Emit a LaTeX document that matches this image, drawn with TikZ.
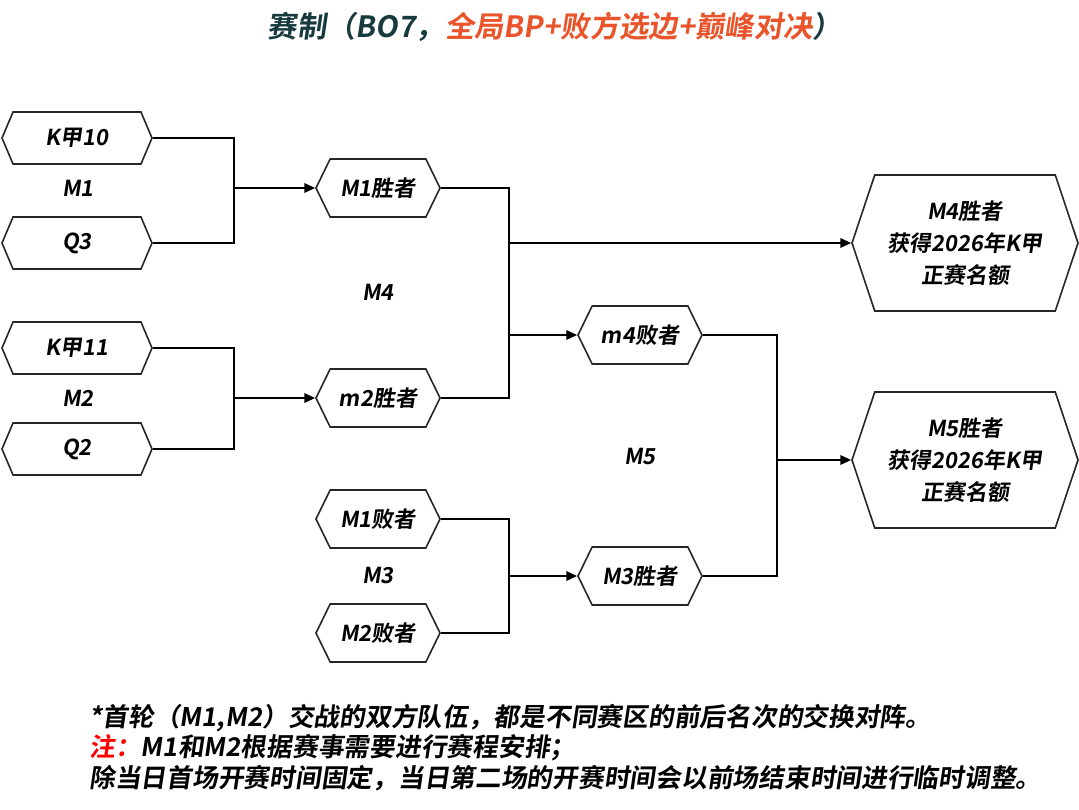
\documentclass[tikz,border=0pt]{standalone}
\usepackage{fontspec}
\setmainfont{Noto Sans CJK SC Bold}[FakeSlant=0.15]
\usetikzlibrary{shapes.symbols,arrows.meta}
\definecolor{titleteal}{RGB}{23,58,62}
\definecolor{titleorange}{RGB}{234,84,42}
\definecolor{noteRed}{RGB}{255,0,0}
\tikzset{every picture/.style={line width=0.75pt}}
\tikzset{
  hexa/.style={shape=signal, signal to=west and east, draw=black!85, line width=1.2pt, inner sep=0pt, font=\fontsize{16.5}{24}\selectfont, align=center},
  team/.style={hexa, minimum width=112.5pt, minimum height=39pt, signal pointer angle=134},
  seed/.style={hexa, minimum width=93pt, minimum height=43.5pt, signal pointer angle=128},
  final/.style={hexa, minimum width=169.5pt, minimum height=102pt, signal pointer angle=143},
  matchlbl/.style={inner sep=0.75pt, font=\fontsize{16.5}{20}\selectfont},
  link/.style={line width=1.4pt},
  arr/.style={link, -{Triangle[length=8pt,width=7pt]}},
  foot/.style={anchor=west, inner sep=0.75pt, font=\fontsize{19.3}{22}\selectfont}
}

\begin{document}
\begin{tikzpicture}[x=0.75pt,y=0.75pt,yscale=-1,xscale=1]
        \useasboundingbox (0,0) rectangle (1079,810);

        % Title
        \node (title) at (555,27) [inner sep=0.75pt, font=\fontsize{22}{24}\selectfont] {\textcolor{titleteal}{赛制（BO7，}\textcolor{titleorange}{全局BP+败方选边+巅峰对决}\textcolor{titleteal}{）}};

        %Shape: Hexagon -- round 1
        \node (k10) at (77,138) [team] {K甲10};
        \node (q3) at (77,243) [team] {Q3};
        \node (k11) at (77,348) [team] {K甲11};
        \node (q2) at (77,449) [team] {Q2};
        % Text Node
        \node (lm1) at (78,188) [matchlbl] {M1};
        \node (lm2) at (78,398) [matchlbl] {M2};

        %Shape: Hexagon -- round 2
        \node (w1) at (378,188) [seed] {M1胜者};
        \node (w2) at (378,398) [seed] {m2胜者};
        \node (l1) at (378,519) [seed] {M1败者};
        \node (l2) at (378,633) [seed] {M2败者};
        % Text Node
        \node (lm4) at (378,292) [matchlbl] {M4};
        \node (lm3) at (378,575) [matchlbl] {M3};

        %Shape: Hexagon -- round 3
        \node (l4) at (640,335) [seed] {m4败者};
        \node (w3) at (640,576) [seed] {M3胜者};
        % Text Node
        \node (lm5) at (640,456) [matchlbl] {M5};

        %Shape: Hexagon -- finals
        \node (f4) at (965,243) [final] {M4胜者\\获得2026年K甲\\正赛名额};
        \node (f5) at (965,460) [final] {M5胜者\\获得2026年K甲\\正赛名额};

        %Straight Lines
        \coordinate (j1) at (234,188);
        \coordinate (j2) at (234,398);
        \coordinate (j4a) at (509,243);
        \coordinate (j4b) at (509,335);
        \coordinate (j3) at (509,576);
        \coordinate (j5) at (777,460);
        \draw [link] (k10.east) -| (j1) |- (q3.east);
        \draw [arr] (j1) -- (w1.west);
        \draw [link] (k11.east) -| (j2) |- (q2.east);
        \draw [arr] (j2) -- (w2.west);
        \draw [link] (w1.east) -| (j4b) |- (w2.east);
        \draw [arr] (j4a) -- (f4.west);
        \draw [arr] (j4b) -- (l4.west);
        \draw [link] (l1.east) -| (j3) |- (l2.east);
        \draw [arr] (j3) -- (w3.west);
        \draw [link] (l4.east) -| (j5) |- (w3.east);
        \draw [arr] (j5) -- (f5.west);

        % Text Node -- notes
        \node (n1) at (88,718) [foot] {*首轮（M1,M2）交战的双方队伍，都是不同赛区的前后名次的交换对阵。};
        \node (n2) at (88,748) [foot] {\textcolor{noteRed}{注：}M1和M2根据赛事需要进行赛程安排；};
        \node (n3) at (88,778) [foot] {除当日首场开赛时间固定，当日第二场的开赛时间会以前场结束时间进行临时调整。};
\end{tikzpicture}
\end{document}
